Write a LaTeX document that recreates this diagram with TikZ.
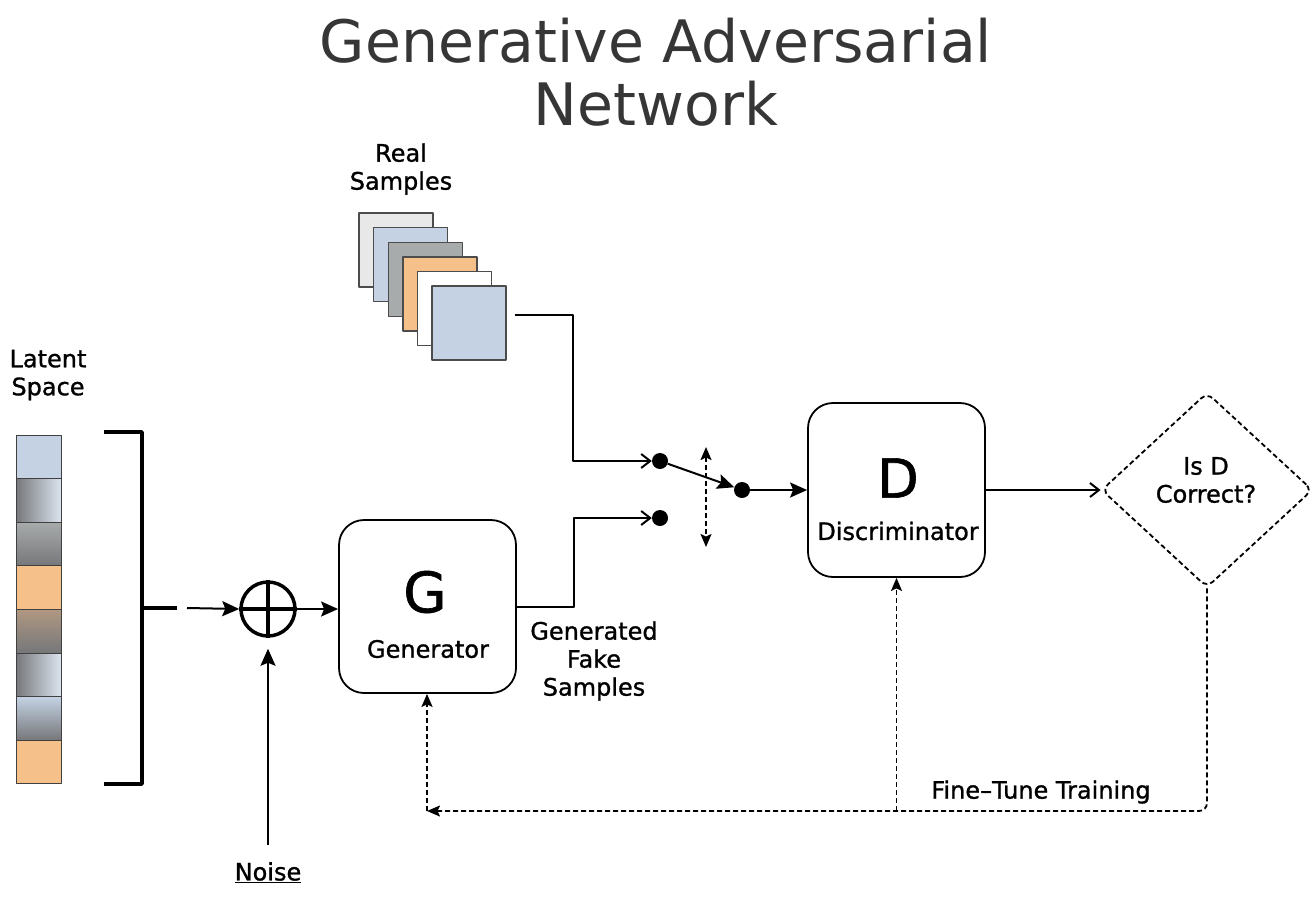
\documentclass[tikz,border=0pt]{standalone}
\usepackage{fontspec}
\setmainfont{DejaVu Sans}
\newfontfamily\labelfont[FakeBold=1.1]{DejaVu Sans}
\usetikzlibrary{arrows.meta,shapes.geometric}
\definecolor{lblue}{HTML}{C4D2E4}
\definecolor{lorange}{HTML}{F6C08A}
\definecolor{lgray}{HTML}{E8E8E8}
\definecolor{mgray}{HTML}{A8ABAB}
\definecolor{dgray}{HTML}{76777A}
\definecolor{titlegray}{HTML}{363636}
\begin{document}
\begin{tikzpicture}[line join=round,>=Stealth,x=1pt,y=-1pt]
		\tikzset{every node/.style={inner sep=0pt},
			txt/.style={font=\labelfont\fontsize{24}{28}\selectfont,align=center},
			block/.style={draw,line width=1.8pt,rounded corners=25pt,minimum width=177pt,minimum height=173pt},
			cell/.style={draw=black!75,line width=1pt,minimum width=45pt,minimum height=43.6pt},
			cellfill1/.style={fill=lblue},
			cellfill2/.style={left color=dgray,right color=lblue!60!white},
			cellfill3/.style={top color=mgray,bottom color=dgray},
			cellfill4/.style={fill=lorange},
			cellfill5/.style={top color=lorange!45!dgray,bottom color=dgray},
			cellfill6/.style={left color=dgray,right color=lblue!60!white},
			cellfill7/.style={top color=lblue,bottom color=dgray},
			cellfill8/.style={fill=lorange},
			sample/.style={draw=black!70,line width=1.4pt,minimum size=74pt},
			dot/.style={circle,fill,minimum size=16pt},
			wire/.style={line width=2pt},
			dashwire/.style={line width=1.8pt,dash pattern=on 5pt off 3pt},
			tip/.style={-{Stealth[length=17pt,width=15pt,inset=3pt]}},
			dashtip/.style={-{Stealth[length=13pt,width=11pt,inset=2.5pt]}},
			opentip/.style={-{Straight Barb[length=9pt,width=14pt]}}}
		\useasboundingbox (0,0) rectangle (1316,897);
		\node[font=\fontsize{58.5}{63}\selectfont,align=center,text=titlegray] (title) at (656,72) {Generative Adversarial\\Network};
		%Latent space
		\node[txt] (latlabel) at (48,375) {Latent\\Space};
		\foreach \i in {1,...,8}
		\node[cell,cellfill\i] (lat\i) at (38.5,{435+43.6*(\i-0.5)}) {};
		\coordinate (brtop) at (104,432);
		\coordinate (brbot) at (104,784);
		\coordinate (brmid) at (142,608);
		\coordinate (brend) at (177,608);
		\coordinate (arrstart) at (187,608);
		\draw[line width=3.5pt] (brtop) -| (brmid) |- (brbot);
		\draw[line width=3.5pt] (brmid) -- (brend);
		%Noise adder
		\node[circle,draw,line width=3.5pt,minimum size=54pt] (plus) at (268,609) {};
		\draw[line width=3.5pt] (plus.north) -- (plus.south) (plus.west) -- (plus.east);
		\node[txt,anchor=north] (noise) at (268,862) {\underline{Noise}};
		\draw[wire,tip,shorten <=17pt,shorten >=11pt] (noise.north) -- (plus.south);
		\draw[wire,tip] (arrstart) -- (plus.west);
		%Generator
		\node[block] (gen) at (427.5,606.5) {};
		\node[font=\labelfont\fontsize{56}{60}\selectfont] (gletter) at (425,592) {G};
		\node[txt] (genlabel) at (428,649) {Generator};
		\draw[wire,tip] (plus.east) -- (plus.east -| gen.west);
		\node[txt] (fakelabel) at (594,661) {Generated\\Fake\\Samples};
		%Real samples
		\node[txt] (reallabel) at (401,169) {Real\\Samples};
		\foreach \k/\c in {0/lgray,1/lblue,2/mgray,3/lorange,4/white,5/lblue}
		\node[sample,fill=\c] (r\k) at ({396+14.6*\k},{250+14.6*\k}) {};
		%Switch
		\node[dot] (s1) at (660,461) {};
		\node[dot] (s2) at (660,518) {};
		\node[dot] (s3) at (742,490) {};
		\coordinate (swtop) at (706,447);
		\coordinate (swbot) at (706,547);
		\draw[wire,opentip] ([shift={(8,-8)}]r5.east) -- ++(58,0) |- (s1);
		\draw[wire,opentip] (gen.east) -- ++(57,0) |- (s2);
		\draw[wire,tip] (s1) -- (s3);
		\draw[dashwire,{Stealth[length=13pt,width=11pt,inset=2.5pt]}-{Stealth[length=13pt,width=11pt,inset=2.5pt]}] (swtop) -- (swbot);
		%Discriminator
		\node[block,minimum height=174pt] (disc) at (896.5,490) {};
		\node[font=\labelfont\fontsize{54}{58}\selectfont] (dletter) at (898,478) {D};
		\node[txt] (disclabel) at (898,531) {Discriminator};
		\draw[wire,tip] (s3) -- (disc.west);
		\node[diamond,draw,dashwire,rounded corners=8pt,minimum width=211pt,minimum height=195pt] (check) at (1207,490) {};
		\node[txt] (checklabel) at (1206,480) {Is D\\Correct?};
		\draw[wire,opentip] (disc.east) -- (check.west);
		%Feedback
		\coordinate (fb) at (427,811);
		\draw[dashwire,dashtip,rounded corners=8pt] (check.south) |- (fb);
		\draw[dashwire,dashtip] (fb) -- (gen.south -| fb);
		\draw[dashwire,dashtip] (disc.south |- fb) -- (disc.south);
		\node[txt] (tunelabel) at (1041,792) {Fine–Tune Training};
\end{tikzpicture}
\end{document}
